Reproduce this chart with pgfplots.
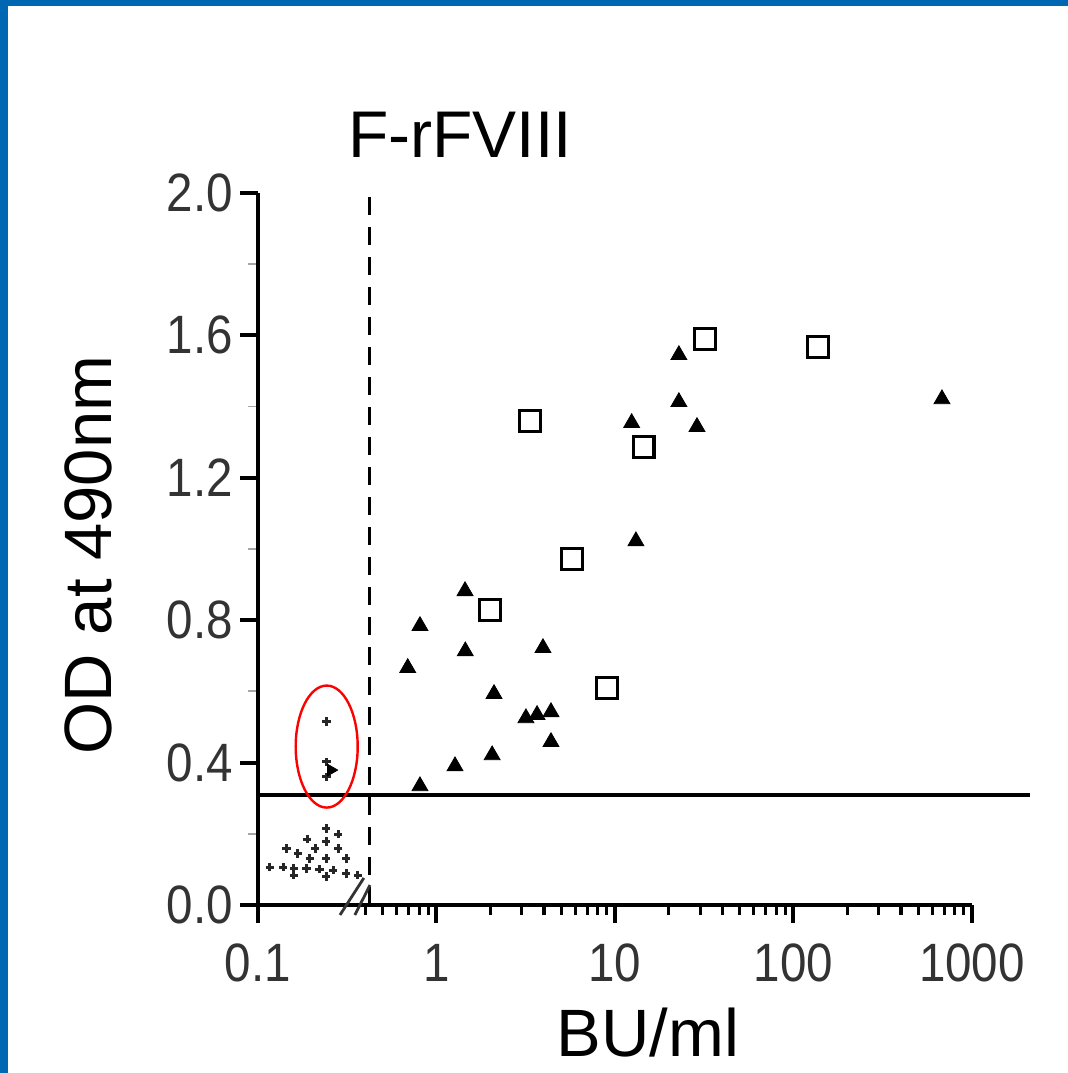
\documentclass[border=0pt]{standalone}
\usepackage{pgfplots}
\pgfplotsset{compat=1.18}
\usepackage{fontspec}
\setmainfont{Liberation Sans}
\newfontfamily\tickfont[FakeStretch=0.88]{Liberation Sans}
\definecolor{frameblue}{HTML}{0068B2}
\begin{document}
\begin{tikzpicture}
\useasboundingbox (0,0) rectangle (534pt,536.5pt);
% blue slide frame
\fill[frameblue] (0,533.5pt) rectangle (534pt,536.5pt);
\fill[frameblue] (0,0) rectangle (3.8pt,536.5pt);
\begin{axis}[
    at={(129pt,84pt)}, anchor=south west,
    scale only axis, width=357pt, height=356pt,
    xmode=log, xmin=0.1, xmax=1000, ymin=0, ymax=2,
    axis x line=bottom, axis y line=left,
    axis line style={-, line width=2pt},
    xtick={0.1,1,10,100,1000}, xticklabels={0.1,1,10,100,1000},
    minor xtick={0.4,0.5,0.6,0.7,0.8,0.9,2,3,4,5,6,7,8,9,20,30,40,50,60,70,80,90,200,300,400,500,600,700,800,900},
    ytick={0,0.4,0.8,1.2,1.6,2.0},
    minor ytick={0.2,0.6,1.0,1.4,1.8},
    tick align=outside, major tick length=9pt, minor tick length=5pt,
    every major tick/.style={black, line width=2pt},
    every minor tick/.style={black, line width=1.6pt},
    every minor y tick/.style={black!35, line width=0.9pt},
    /pgf/number format/assume math mode=true,
    yticklabel style={/pgf/number format/.cd, fixed, fixed zerofill, precision=1},
    xticklabel style={yshift=-7pt},
    ticklabel style={font=\tickfont\fontsize{27}{27}\selectfont, text=black!80},
    clip=false, enlargelimits=false,
]
% negative samples (below cut-off)
\addplot[only marks, mark=+, mark size=2.1pt, line width=1.5pt, black!85] coordinates {
  (0.2413,0.215) (0.2807,0.199) (0.1889,0.185) (0.2413,0.178) (0.2807,0.159)
  (0.1441,0.159) (0.1675,0.145) (0.2094,0.159) (0.1949,0.131) (0.2413,0.131)
  (0.3124,0.131) (0.1163,0.106) (0.1381,0.106) (0.1591,0.103) (0.1865,0.103)
  (0.2216,0.101) (0.2632,0.098) (0.3124,0.089) (0.3633,0.084) (0.2413,0.080)
  (0.1591,0.084)
  (0.2426,0.515) (0.2426,0.402) (0.2426,0.360)
};
% circled sample
\addplot[only marks, mark=triangle*, mark size=3.4pt, black, mark options={rotate=-90}] coordinates {
  (0.256,0.379)
};
% triangles
\addplot[only marks, mark=triangle*, mark size=4.6pt, black] coordinates {
  (0.69,0.666) (0.808,0.784) (0.808,0.334) (1.27,0.390) (1.445,0.882)
  (1.45,0.713) (2.10,0.593) (2.05,0.421) (3.17,0.525) (3.66,0.534)
  (4.38,0.542) (3.95,0.722) (4.38,0.458) (12.4,1.354) (13.1,1.022)
  (22.8,1.545) (22.8,1.413) (28.8,1.343) (679,1.421)
};
% open squares
\addplot[only marks, mark=square, mark size=5.2pt, line width=1.7pt, black] coordinates {
  (3.34,1.360) (1.99,0.829) (5.74,0.972) (9.02,0.610) (14.5,1.287)
  (31.9,1.590) (137,1.567)
};
% cut-off lines
\draw[line width=2pt] (axis cs:0.1,0.31) -- (axis cs:2113,0.31);
\draw[line width=1.5pt, dash pattern=on 9pt off 6pt] (axis cs:0.42,0) -- (axis cs:0.42,2.01);
% axis break
\draw[line width=1.4pt, black!80] (axis cs:0.288,-0.028) -- (axis cs:0.392,0.076);
\draw[line width=1.4pt, black!80] (axis cs:0.349,-0.028) -- (axis cs:0.424,0.056);
% highlight
\draw[red, line width=1.2pt] (axis cs:0.2426,0.445) ellipse [x radius=15.5pt, y radius=30.5pt];
\end{axis}
\node at (230pt,469.25pt) {\fontsize{33}{33}\selectfont F-rFVIII};
\node[rotate=90] at (44pt,259pt) {\fontsize{33.5}{33.5}\selectfont OD at 490nm};
\node at (324pt,20pt) {\fontsize{33.5}{33.5}\selectfont BU/ml};
\end{tikzpicture}
\end{document}
